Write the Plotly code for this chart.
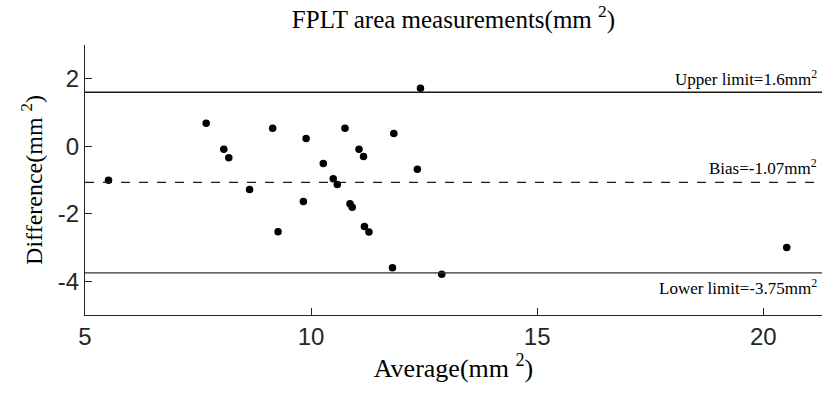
import plotly.graph_objects as go

# Bland-Altman data: mean of the two measurements vs. their difference (mm^2)
average = [5.52, 7.68, 8.07, 8.18, 8.64, 9.15, 9.27, 9.83, 9.89, 10.27,
           10.49, 10.58, 10.75, 10.86, 10.91, 11.06, 11.16, 11.18, 11.28,
           12.42, 11.83, 12.35, 11.80, 12.89, 20.52]
difference = [-1.01, 0.68, -0.09, -0.34, -1.28, 0.53, -2.53, -1.64, 0.23, -0.51,
              -0.96, -1.13, 0.53, -1.70, -1.81, -0.09, -0.30, -2.38, -2.54,
              1.72, 0.38, -0.68, -3.60, -3.79, -3.00]

bias = -1.07
upper_limit = 1.6
lower_limit = -3.75

x_ticks = [5, 10, 15, 20]
y_ticks = [-4, -2, 0, 2]
y_tick_text = ["-4", "-2", "0", "2"]

serif = "Liberation Serif, Times New Roman, serif"
sans = "Liberation Sans, Arial, sans-serif"
ink = "#000000"
axis_ink = "#262626"

fig = go.Figure()

fig.add_trace(go.Scatter(
    x=average, y=difference, mode="markers",
    marker=dict(color="black", size=7.5, line=dict(width=0)),
    showlegend=False, hoverinfo="x+y",
))

# limits of agreement and mean difference
fig.add_hline(y=upper_limit, line=dict(color="#1a1a1a", width=1.3))
fig.add_hline(y=lower_limit, line=dict(color="#333333", width=1.3))
fig.add_hline(y=bias, line=dict(color="#1a1a1a", width=1.2, dash="dash"))

label_font = dict(family=serif, size=17, color=ink)
fig.add_annotation(x=1.0, xref="paper", y=upper_limit, yref="y",
                   text=f"Upper limit={upper_limit}mm<sup>2</sup>",
                   showarrow=False, xanchor="right", yanchor="bottom",
                   xshift=-3, yshift=1, font=label_font)
fig.add_annotation(x=1.0, xref="paper", y=bias, yref="y",
                   text=f"Bias={bias}mm<sup>2</sup>",
                   showarrow=False, xanchor="right", yanchor="bottom",
                   xshift=-3, yshift=2, font=label_font)
fig.add_annotation(x=1.0, xref="paper", y=lower_limit, yref="y",
                   text=f"Lower limit={lower_limit}mm<sup>2</sup>",
                   showarrow=False, xanchor="right", yanchor="top",
                   xshift=-3, yshift=-1, font=label_font)

fig.update_layout(
    width=826, height=401,
    margin=dict(l=85, r=4, t=45, b=86),
    paper_bgcolor="white", plot_bgcolor="white",
    title=dict(text="FPLT area measurements(mm <sup>2</sup>)",
               x=0.5, xanchor="center", xref="paper",
               y=0.975, yanchor="top",
               font=dict(family=serif, size=25, color=ink)),
    xaxis=dict(range=[5, 21.3], tickvals=x_ticks, ticks="inside", ticklen=7,
               tickcolor=axis_ink, showline=True, linecolor=axis_ink,
               linewidth=1, showgrid=False, zeroline=False,
               tickfont=dict(family=sans, size=24, color=axis_ink),
               title=dict(text="Average(mm <sup>2</sup>)", standoff=6,
                          font=dict(family=serif, size=26, color=ink))),
    yaxis=dict(range=[-5, 3], tickvals=y_ticks, ticktext=y_tick_text,
               ticks="inside", ticklen=7,
               tickcolor=axis_ink, showline=True, linecolor=axis_ink,
               linewidth=1, showgrid=False, zeroline=False,
               tickfont=dict(family=sans, size=24, color=axis_ink),
               title=dict(text="Difference(mm <sup>2</sup>)", standoff=8,
                          font=dict(family=serif, size=24, color=ink))),
)

fig.write_html("out.html")
